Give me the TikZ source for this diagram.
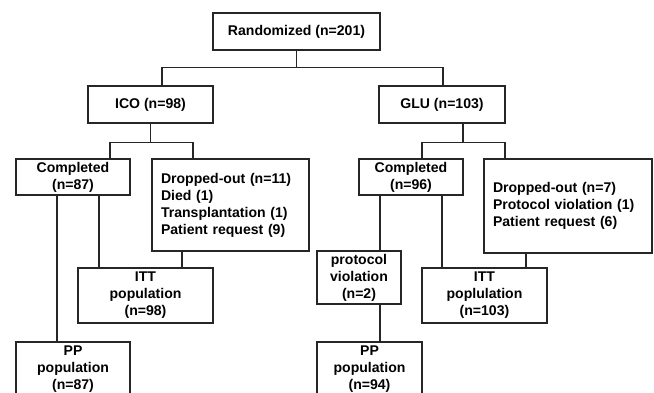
\documentclass[tikz,border=0pt]{standalone}
\usepackage{fontspec}
\setmainfont{Liberation Sans}
\usetikzlibrary{calc}
\usetikzlibrary{positioning}
\tikzset{
  box/.style={rectangle, draw=black!85, line width=1.2pt, font=\fontsize{12}{14.5}\selectfont\bfseries, align=center, inner sep=0pt},
  listbox/.style={box, align=left, inner xsep=0.27cm},
  link/.style={draw=black!85, line width=1.2pt}
  }

\begin{document}
\begin{tikzpicture}[x=0.03cm, y=-0.03cm]
	\useasboundingbox (0,0) rectangle (654,392);

	% Nodes
	\node[box, minimum width=5.01cm, minimum height=1.11cm] (rand) at (296.5,31.5) {Randomized (n=201)};
	\node[box, minimum width=3.75cm, minimum height=1.11cm] (ico) at (150.5,104.5) {ICO (n=98)};
	\node[box, minimum width=3.78cm, minimum height=1.11cm] (glu) at (442,104.5) {GLU (n=103)};
	% ICO arm
	\node[box, minimum width=3.42cm, minimum height=1.08cm] (compico) at (73,177) {Completed\\(n=87)};
	\node[listbox, text width=4.17cm, minimum height=2.76cm] (dropico) at (230.5,205) {Dropped-out (n=11)\\Died (1)\\Transplantation (1)\\Patient request (9)};
	\node[box, minimum width=4.05cm, minimum height=1.65cm] (ittico) at (145.5,295.5) {ITT\\population\\(n=98)};
	\node[box, minimum width=3.42cm, minimum height=1.65cm] (ppico) at (73,369.5) {PP\\population\\(n=87)};
	% GLU arm
	\node[box, minimum width=3.12cm, minimum height=1.08cm] (compglu) at (411,177) {Completed\\(n=96)};
	\node[listbox, text width=4.5cm, minimum height=2.82cm] (dropglu) at (568,206) {Dropped-out (n=7)\\Protocol violation (1)\\Patient request (6)};
	\node[box, minimum width=2.52cm, minimum height=1.59cm] (violglu) at (359,277.5) {protocol\\violation\\(n=2)};
	\node[box, minimum width=3.75cm, minimum height=1.65cm] (ittglu) at (484.5,295.5) {ITT\\poplulation\\(n=103)};
	\node[box, minimum width=3.15cm, minimum height=1.65cm] (ppglu) at (369.5,369.5) {PP\\population\\(n=94)};

	% Branches
	\draw[link] (rand.south) -- ++(0,17) coordinate (jrand);
	\draw[link] (jrand) -| ($(ico.north)+(11.5,0)$);
	\draw[link] (jrand) -| ($(glu.north)+(1,0)$);
	\draw[link] (ico.south) -- ++(0,19) coordinate (jico);
	\draw[link] (jico) -| ($(compico.north)+(37,0)$);
	\draw[link] (jico) -| ($(dropico.north)+(-37.5,0)$);
	\draw[link] ($(glu.south)+(21,0)$) -- ++(0,19) coordinate (jglu);
	\draw[link] (jglu) -| ($(compglu.north)+(11,0)$);
	\draw[link] (jglu) -| ($(dropglu.north)+(-63,0)$);
	% Lines down
	\draw[link] ($(compico.south)+(-16,0)$) coordinate (a1) -- (a1 |- ppico.north);
	\draw[link] ($(compico.south)+(26,0)$) coordinate (a2) -- (a2 |- ittico.north);
	\draw[link] ($(dropico.south)+(-48.5,0)$) coordinate (a3) -- (a3 |- ittico.north);
	\draw[link] ($(compglu.south)+(-31,0)$) coordinate (b1) -- (b1 |- violglu.north);
	\draw[link] ($(compglu.south)+(31,0)$) coordinate (b2) -- (b2 |- ittglu.north);
	\draw[link] ($(dropglu.south)+(-42,0)$) coordinate (b3) -- (b3 |- ittglu.north);
	\draw[link] ($(violglu.south)+(21,0)$) coordinate (b4) -- (b4 |- ppglu.north);
\end{tikzpicture}
\end{document}
